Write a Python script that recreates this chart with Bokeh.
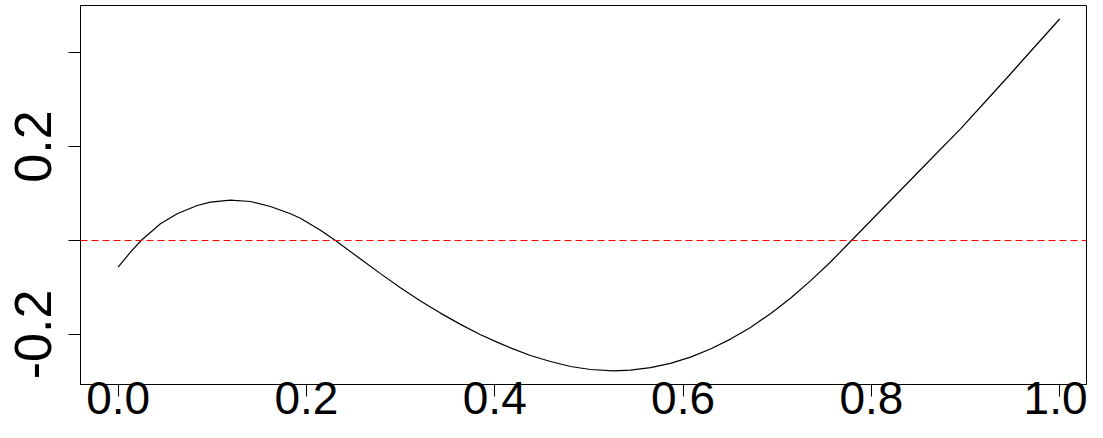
from bokeh.plotting import figure
from bokeh.models import Range1d, FixedTicker, Span
from bokeh.embed import file_html
from bokeh.resources import INLINE

# curve values
x_vals = [0.0000, 0.0131, 0.0244, 0.0449, 0.0627, 0.0839, 0.0980, 0.1193, 0.1405, 0.1618,
          0.1830, 0.1936, 0.2149, 0.2308, 0.2574, 0.2786, 0.2998, 0.3211, 0.3423, 0.3636,
          0.3849, 0.4061, 0.4167, 0.4379, 0.4592, 0.4804, 0.5016, 0.5260, 0.5441, 0.5654,
          0.5866, 0.6079, 0.6291, 0.6504, 0.6716, 0.6928, 0.7141, 0.7353, 0.7566, 0.7789,
          0.7991, 0.8203, 0.8416, 0.8628, 0.8947, 0.9265, 0.9477, 0.9690, 1.0000]
y_vals = [-0.0568, -0.0247, 0.0000, 0.0355, 0.0568, 0.0745, 0.0815, 0.0857, 0.0830, 0.0723,
          0.0568, 0.0472, 0.0217, 0.0000, -0.0395, -0.0705, -0.1005, -0.1285, -0.1545, -0.1785,
          -0.2004, -0.2195, -0.2284, -0.2447, -0.2574, -0.2681, -0.2745, -0.2772, -0.2757, -0.2704,
          -0.2613, -0.2481, -0.2309, -0.2098, -0.1849, -0.1557, -0.1230, -0.0860, -0.0457, 0.0000,
          0.0415, 0.0851, 0.1287, 0.1723, 0.2376, 0.3074, 0.3543, 0.4021, 0.4713]

ref_level = 0.0
x_ticks = [0.0, 0.2, 0.4, 0.6, 0.8, 1.0]
x_tick_labels = {0.0: "0.0", 0.2: "0.2", 0.4: "0.4", 0.6: "0.6", 0.8: "0.8", 1.0: "1.0"}
y_ticks = [-0.2, 0.0, 0.2, 0.4]
y_tick_labels = {-0.2: "-0.2", 0.0: "", 0.2: "0.2", 0.4: ""}

FONT = "Liberation Sans"

p = figure(width=1087, height=422, output_backend="svg", toolbar_location=None,
           x_range=Range1d(-0.0400, 1.0285), y_range=Range1d(-0.3064, 0.5000),
           min_border_left=80, min_border_right=1, min_border_top=5, min_border_bottom=38)
p.background_fill_color = "white"
p.border_fill_color = "white"
p.outline_line_color = "black"
p.outline_line_width = 1
p.xgrid.visible = False
p.ygrid.visible = False

# axes
p.xaxis.ticker = FixedTicker(ticks=x_ticks, minor_ticks=[])
p.xaxis.major_label_overrides = x_tick_labels
p.yaxis.ticker = FixedTicker(ticks=y_ticks, minor_ticks=[])
p.yaxis.major_label_overrides = y_tick_labels
for ax in (p.xaxis, p.yaxis):
    ax.axis_line_color = "black"
    ax.major_tick_in = 0
    ax.major_tick_out = 12
    ax.minor_tick_in = 0
    ax.minor_tick_out = 0
    ax.major_tick_line_color = "black"
    ax.major_label_text_font = FONT
    ax.major_label_text_color = "black"
p.xaxis.major_label_text_font_size = "46px"
p.yaxis.major_label_text_font_size = "52px"
p.yaxis.major_label_orientation = "vertical"
p.yaxis.major_label_standoff = 17
p.xaxis.major_label_standoff = -15

p.add_layout(Span(location=ref_level, dimension="width", line_color="red",
                  line_dash="7 4", line_width=1.2))
p.line(x_vals, y_vals, line_color="black", line_width=1.2)

open("out.html", "w").write(file_html(p, INLINE))
